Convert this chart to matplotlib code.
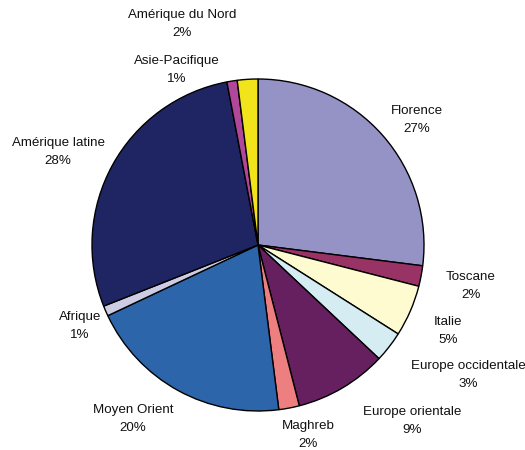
import matplotlib.pyplot as plt

plt.rcParams["font.family"] = ["Liberation Sans", "DejaVu Sans"]

# Origin of visitors, share in percent (clockwise from 12 o'clock)
REGIONS = [
    "Florence", "Toscane", "Italie", "Europe occidentale", "Europe orientale",
    "Maghreb", "Moyen Orient", "Afrique", "Amérique latine",
    "Asie-Pacifique", "Amérique du Nord",
]
SHARES = [27, 2, 5, 3, 9, 2, 20, 1, 28, 1, 2]

COLORS = [
    "#9593c6", "#993366", "#fffbd0", "#d4ecf2", "#66205f",
    "#ee7f80", "#2c65a9", "#cccce5", "#1f2563", "#b0479a", "#f2e41a",
]

# label anchor (x, y) in pixels from the top-left corner
LABEL_POS = [
    (417, 120), (471, 286), (448, 331), (468, 375), (412, 421),
    (308, 435), (133, 419), (80, 326), (58, 152), (177, 70), (182, 24),
]

W, H = 525, 450
CX, CY, R = 258, 245, 166

fig = plt.figure(figsize=(W / 100, H / 100), dpi=100)
ax = fig.add_axes([0, 0, 1, 1])

wedges, _ = ax.pie(
    SHARES, colors=COLORS, startangle=90, counterclock=False,
    center=(CX, CY), radius=R, frame=True,
    wedgeprops=dict(edgecolor="black", linewidth=1.0),
)
# pie() assumes y upward; mirror the angles for the pixel-style axis below
for w in wedges:
    t1, t2 = w.theta1, w.theta2
    w.set_theta1(-t2)
    w.set_theta2(-t1)

ax.set_xlim(0, W)
ax.set_ylim(H, 0)
ax.set_aspect("equal")
ax.axis("off")

for name, share, (x, y) in zip(REGIONS, SHARES, LABEL_POS):
    ax.text(x, y, f"{name}\n{share}%", ha="center", va="center",
            fontsize=9.6, linespacing=1.6, color="#111111")

fig.savefig("out.png", dpi=100)
